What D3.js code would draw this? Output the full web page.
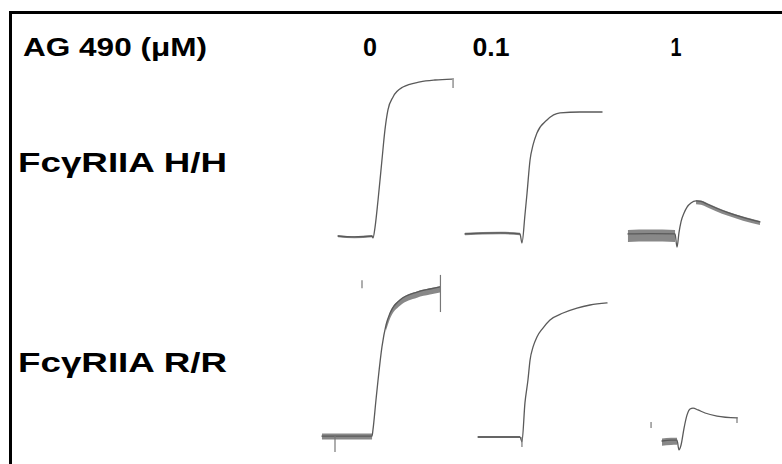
<!DOCTYPE html>
<html>
<head>
<meta charset="utf-8">
<script src="https://cdn.jsdelivr.net/npm/d3@7"></script>
<style>
  html, body { margin: 0; padding: 0; background: #fff; }
  svg { display: block; }
  .label { font-family: "Liberation Sans", Arial, sans-serif; font-weight: bold; fill: #000; }
  .trace { fill: none; stroke: #5a5a5a; stroke-width: 1.3; stroke-linejoin: round; stroke-linecap: round; }
  .noise { fill: #555; stroke: none; opacity: 0.7; }
  .tick-mark { stroke: #777; stroke-width: 1.2; }
</style>
</head>
<body>
<div id="chart"></div>
<script>
// AG 490 concentrations (columns) and receptor genotypes (rows)
var doses = ["0", "0.1", "1"];
var genotypes = ["FcγRIIA H/H", "FcγRIIA R/R"];

// aggregation traces, [time (a.u.), aggregation (%)]
var traceHH0 = [[12, 0], [23, -0.6], [34.7, 0], [35.3, -1.2], [36.7, 5.6], [38.7, 22.5], [41.3, 47.5],
    [43.3, 66.3], [45.3, 78.8], [48.7, 86.9], [55.3, 93.1], [66.7, 96.3], [76.7, 97.5], [88, 98.1]];
var traceHH01 = [[3.3, 1.3], [26.7, 1.9], [40, 1.3], [41.3, -4.4], [43.3, 13.1], [44.7, 26.9], [46.7, 47.5],
    [48.7, 56.9], [51.3, 64.4], [58, 72.5], [66.7, 76.9], [80, 77.5], [94.7, 77.5]];
var traceHH1 = [[5.3, 1.3], [20, 1.5], [36.7, 1.3], [38, -7], [39.3, 2], [40.7, 9], [42.7, 14.4], [44.7, 18.1],
    [47.3, 20.6], [50.7, 21.9], [54, 21.6], [58, 20], [64, 17.5], [72, 14.6], [82, 11.6], [93.3, 8.8]];
var traceRR0 = [[1.3, 0.6], [20, 0.6], [34.7, 0.6], [35.3, 4.4], [37.3, 23], [38.7, 35.6], [41.3, 56.3],
    [44, 70], [46.7, 77.5], [53.3, 85.6], [64.7, 90.6], [73.3, 92.5], [80, 93.8]];
var traceRR01 = [[12, 0], [40, 0], [41.3, -3], [43.3, 21.3], [45.3, 35.6], [46.7, 48.1], [48.7, 56.3],
    [51.3, 62.5], [55.3, 68.1], [60, 73.1], [68.7, 77.5], [78, 80.6], [86.7, 82.5], [98, 83.8]];
var traceRR1 = [[28, -2.5], [34, -2], [38, -1.9], [39.3, -8.1], [40.7, -5], [42.7, 5.6], [44.7, 13.8],
    [46.7, 17.5], [48.7, 18.1], [52, 16.9], [56.7, 15], [64.7, 13.1], [78, 11.9]];

// noisy stretches: [time start, time end, lower offset %, upper offset %]
var noiseHH0 = [[12, 34.7, -0.8, 0.5]];
var noiseHH01 = [[3.3, 40, -0.8, 0.8]];
var noiseHH1 = [[5.3, 36.7, -5, 2.5], [50, 93.3, -2, 0.6]];
var noiseRR0 = [[1.3, 34.7, -2.2, 1.6], [44, 80, -3.5, 0.4]];
var noiseRR01 = [[12, 40, -0.6, 0.6]];
var noiseRR1 = [[28, 38, -3, 1.5]];

// small vertical marks on the recordings: [time, from %, to %]
var marksHH0 = [[88.7, 98.8, 92.5]];
var marksHH01 = [];
var marksHH1 = [];
var marksRR0 = [[10, 0.6, -9.4], [28, 98, 93], [80.3, 101.3, 78.1]];
var marksRR01 = [[41.3, 0, -6.3]];
var marksRR1 = [[20.7, 9.4, 5.6], [78, 12.5, 8.8]];

var panels = [
    {row: 0, col: 0, trace: traceHH0, noise: noiseHH0, marks: marksHH0},
    {row: 0, col: 1, trace: traceHH01, noise: noiseHH01, marks: marksHH01},
    {row: 0, col: 2, trace: traceHH1, noise: noiseHH1, marks: marksHH1},
    {row: 1, col: 0, trace: traceRR0, noise: noiseRR0, marks: marksRR0},
    {row: 1, col: 1, trace: traceRR01, noise: noiseRR01, marks: marksRR01},
    {row: 1, col: 2, trace: traceRR1, noise: noiseRR1, marks: marksRR1}
];

var width = 782, height = 464;
var colLeft = [320, 460, 620];
var rowBase = [236, 437];

var svg = d3.select("#chart").append("svg")
    .attr("width", width)
    .attr("height", height);

// frame (only top and left edges are inside the picture)
svg.append("path")
    .attr("d", "M10.5," + (height + 5) + "V12.5H" + (width + 5))
    .attr("fill", "none")
    .attr("stroke", "#000")
    .attr("stroke-width", 3);

// header
svg.append("text")
    .attr("class", "label")
    .attr("x", 23)
    .attr("y", 56)
    .attr("font-size", 26)
    .attr("textLength", 184)
    .attr("lengthAdjust", "spacingAndGlyphs")
    .text("AG 490 (μM)");

var doseX = [370, 491, 676];
var doseW = [14, 37, 11];
svg.selectAll(".dose")
    .data(doses)
    .enter().append("text")
    .attr("class", "label dose")
    .attr("x", function (d, i) { return doseX[i] - doseW[i] / 2; })
    .attr("y", 56)
    .attr("font-size", 26)
    .attr("textLength", function (d, i) { return doseW[i]; })
    .attr("lengthAdjust", "spacingAndGlyphs")
    .text(function (d) { return d; });

var rowLabelY = [172, 372];
svg.selectAll(".geno")
    .data(genotypes)
    .enter().append("text")
    .attr("class", "label geno")
    .attr("x", 18)
    .attr("y", function (d, i) { return rowLabelY[i]; })
    .attr("font-size", 28)
    .attr("textLength", 209)
    .attr("lengthAdjust", "spacingAndGlyphs")
    .text(function (d) { return d; });

panels.forEach(function (p) {
    var x = d3.scaleLinear().domain([0, 100]).range([colLeft[p.col], colLeft[p.col] + 150]);
    var y = d3.scaleLinear().domain([0, 100]).range([rowBase[p.row], rowBase[p.row] - 160]);
    var g = svg.append("g").attr("class", "panel");

    var line = d3.line()
        .x(function (d) { return x(d[0]); })
        .y(function (d) { return y(d[1]); })
        .curve(d3.curveMonotoneX);

    var area = d3.area()
        .x(function (d) { return x(d[0]); })
        .y0(function (d) { return y(d[1]); })
        .y1(function (d) { return y(d[2]); })
        .curve(d3.curveMonotoneX);

    // noise bands hug the trace between start and end
    p.noise.forEach(function (n) {
        var band = p.trace.filter(function (d) { return d[0] >= n[0] && d[0] <= n[1]; })
            .map(function (d) { return [d[0], d[1] + n[2], d[1] + n[3]]; });
        if (band.length < 2) return;
        g.append("path")
            .attr("class", "noise")
            .attr("d", area(band));
    });

    g.append("path")
        .datum(p.trace)
        .attr("class", "trace")
        .attr("d", line);

    g.selectAll(".tick-mark")
        .data(p.marks)
        .enter().append("line")
        .attr("class", "tick-mark")
        .attr("x1", function (d) { return x(d[0]); })
        .attr("x2", function (d) { return x(d[0]); })
        .attr("y1", function (d) { return y(d[1]); })
        .attr("y2", function (d) { return y(d[2]); });
});
</script>
</body>
</html>
